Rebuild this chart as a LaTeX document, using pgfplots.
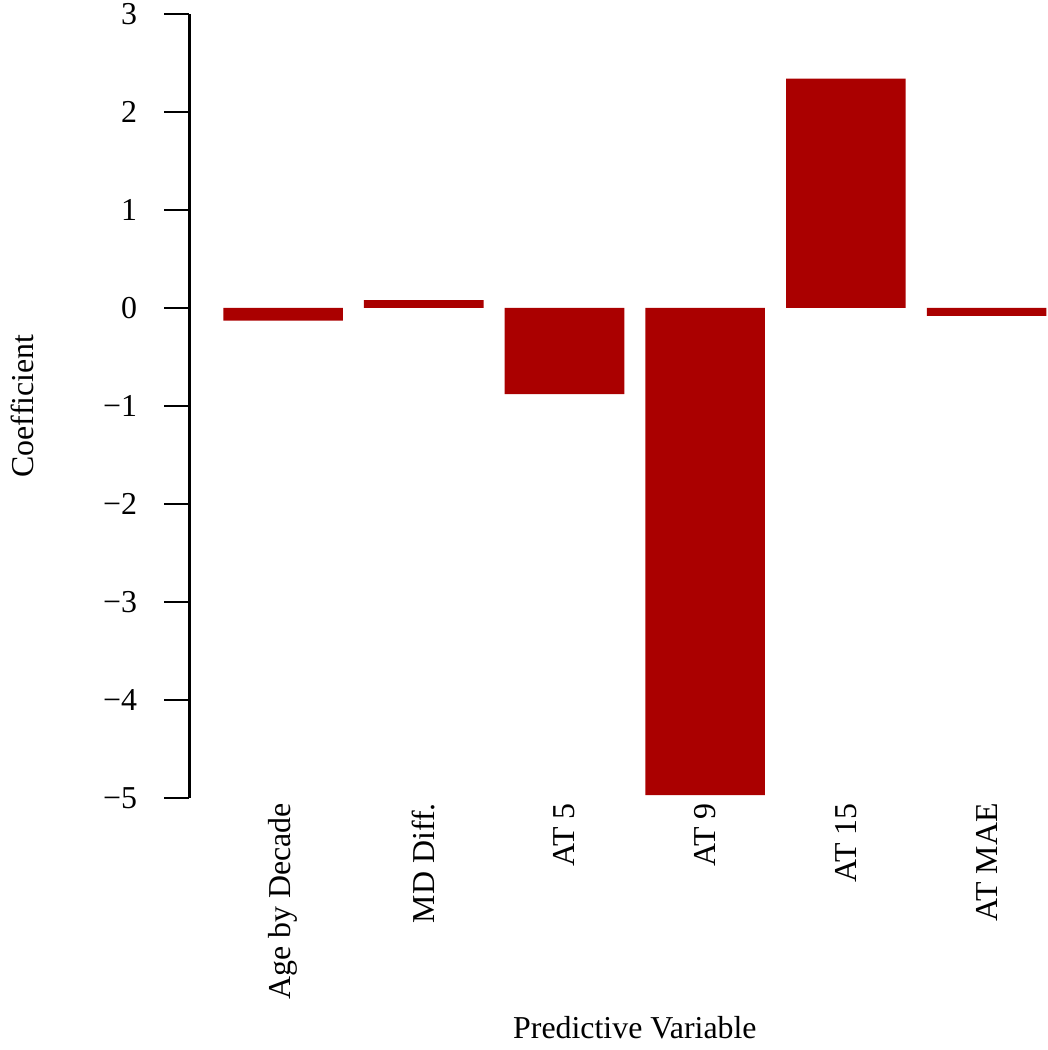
\documentclass[border=0pt]{standalone}
\usepackage{fontspec}
\setmainfont{Liberation Serif}
\usepackage{pgfplots}
\pgfplotsset{compat=1.18}
\definecolor{barred}{RGB}{170,0,0}
\begin{document}
\fontsize{16}{19}\selectfont
\begin{tikzpicture}
\begin{axis}[
  scale only axis,
  width=430.5pt, height=393.5pt,
  xmin=-0.666, xmax=5.43,
  ymin=-5, ymax=3,
  axis lines*=left,
  x axis line style={draw=none},
  y axis line style={line width=1.6pt, -},
  xtick={0,1,2,3,4,5},
  xticklabels={Age by Decade, MD Diff., AT 5, AT 9, AT 15, AT MAE},
  xtick style={draw=none},
  xticklabel style={rotate=90, anchor=east, inner sep=0pt, xshift=10pt, font=\fontsize{16}{19}\selectfont},
  ytick={-5,-4,-3,-2,-1,0,1,2,3},
  yticklabels={−5,−4,−3,−2,−1,0,1,2,3},
  tick align=outside,
  major tick length=12.5pt,
  ytick style={line width=1.1pt, black},
  yticklabel style={anchor=east, inner sep=0pt, xshift=-13.5pt, font=\fontsize{16}{19}\selectfont},
  xlabel={Predictive Variable},
  ylabel={Coefficient},
  xlabel style={at={(axis description cs:0.5194,0)}, anchor=center, yshift=-115.5pt, font=\fontsize{16}{19}\selectfont},
  ylabel style={at={(axis description cs:0,0.5)}, anchor=center, yshift=84pt, font=\fontsize{16}{19}\selectfont},
  clip=false,
]
\addplot[ybar, bar width=0.85, fill=barred, draw=none] coordinates {
  (0,-0.13) (1,0.08) (2,-0.88) (3,-4.97) (4,2.34) (5,-0.08)
};
\end{axis}
\path ([yshift=7pt]current axis.north west) -- ([yshift=7pt]current axis.north east);
\end{tikzpicture}
\end{document}
